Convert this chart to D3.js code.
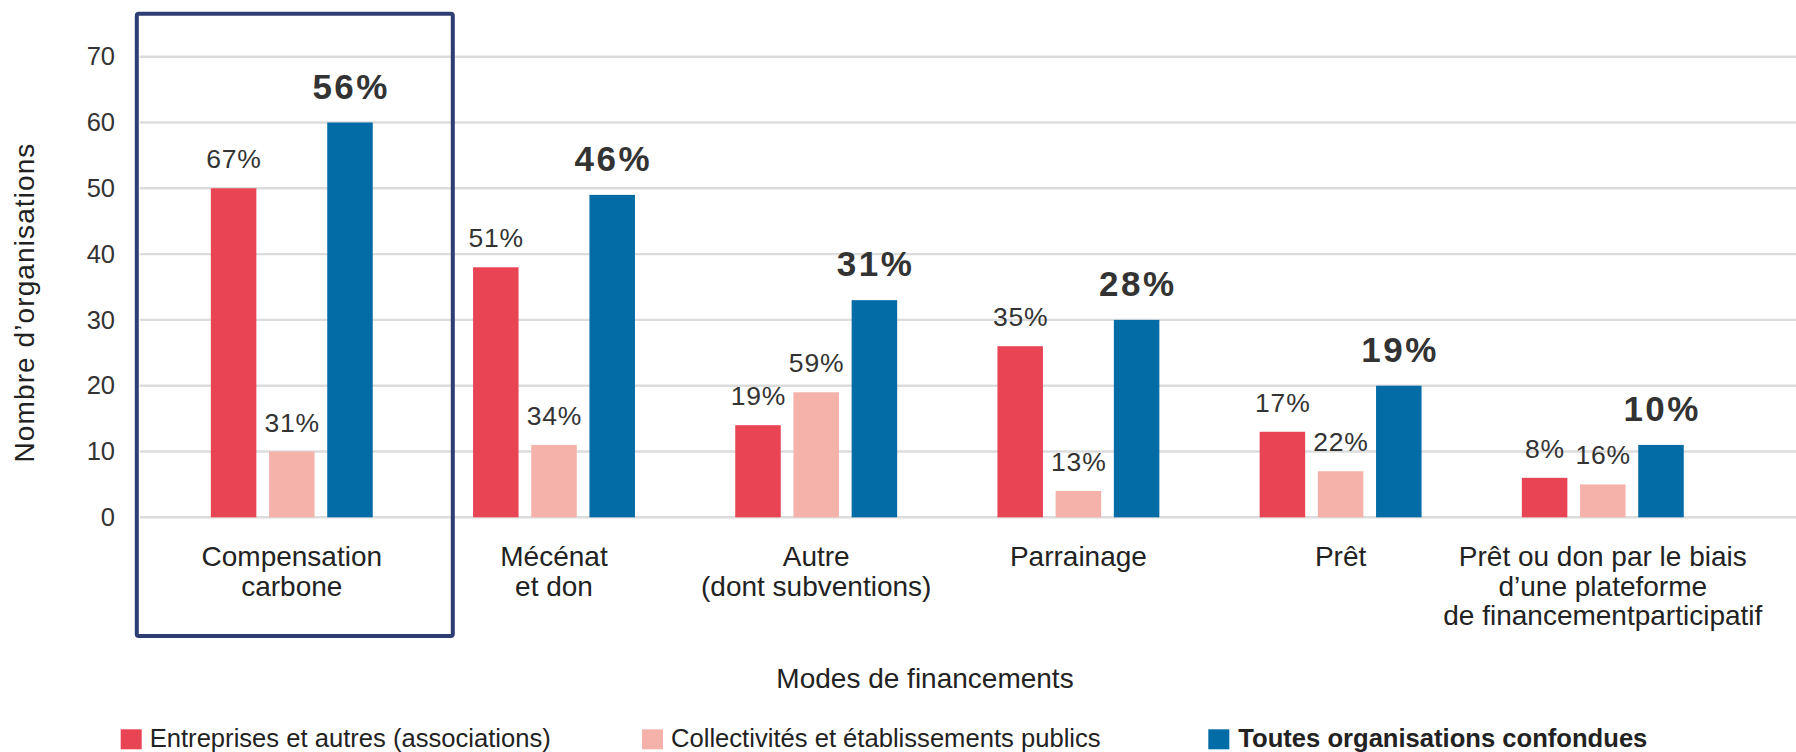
<!DOCTYPE html>
<html>
<head>
<meta charset="utf-8">
<script src="https://cdn.jsdelivr.net/npm/d3@7"></script>
<style>
    body { margin: 0; background: #fff; }
    text { font-family: "Liberation Sans", Arial, Helvetica, sans-serif; }
</style>
</head>
<body>
<svg id="chart"></svg>
<script>
// données
let categories = [
    ["Compensation", "carbone"],
    ["Mécénat", "et don"],
    ["Autre", "(dont subventions)"],
    ["Parrainage"],
    ["Prêt"],
    ["Prêt ou don par le biais", "d\u2019une plateforme", "de financementparticipatif"]
];
let series = ["Entreprises et autres (associations)", "Collectivités et établissements publics", "Toutes organisations confondues"];
let entreprises = [50, 38, 14, 26, 13, 6];
let collectivites = [10, 11, 19, 4, 7, 5];
let toutes = [60, 49, 33, 30, 20, 11];
let pctEntreprises = ["67%", "51%", "19%", "35%", "17%", "8%"];
let pctCollectivites = ["31%", "34%", "59%", "13%", "22%", "16%"];
let pctToutes = ["56%", "46%", "31%", "28%", "19%", "10%"];
let yTicks = [0, 10, 20, 30, 40, 50, 60, 70];

let width = 1796,
    height = 752,
    colors = ["#e84453", "#f4b2ab", "#036ca6"];

let svg = d3.select("#chart").attr("width", width).attr("height", height);

let values = [entreprises, collectivites, toutes],
    pcts = [pctEntreprises, pctCollectivites, pctToutes];

let x0 = d3.scaleBand()
    .domain(d3.range(categories.length))
    .range([160.7, 1733.9])
    .paddingInner(0.3825)
    .paddingOuter(0.19125);

let x1 = d3.scaleBand()
    .domain(d3.range(series.length))
    .range([0, x0.bandwidth()])
    .paddingInner(0.218);

let y = d3.scaleLinear().domain([0, 70]).range([517.3, 56.7]);

// grille
svg.append("g")
    .selectAll("line")
    .data(yTicks)
    .enter().append("line")
    .attr("x1", 139.7)
    .attr("x2", width)
    .attr("y1", function (d) { return y(d); })
    .attr("y2", function (d) { return y(d); })
    .attr("stroke", "#dcdcdc")
    .attr("stroke-width", 2.4);

// axe y
let yAxis = svg.append("g")
    .attr("transform", "translate(115,0)")
    .call(d3.axisLeft(y).tickValues(yTicks).tickSize(0).tickPadding(0));
yAxis.select(".domain").remove();
yAxis.selectAll("text")
    .attr("font-size", 25.5)
    .attr("fill", "#333")
    .attr("font-family", "Liberation Sans, Arial, sans-serif");

svg.append("text")
    .attr("transform", "translate(34,302.5) rotate(-90)")
    .attr("text-anchor", "middle")
    .attr("font-size", 28)
    .attr("letter-spacing", 1.1)
    .attr("fill", "#222")
    .text("Nombre d\u2019organisations");

// barres
let groups = svg.append("g")
    .selectAll("g")
    .data(categories)
    .enter().append("g")
    .attr("transform", function (d, i) { return "translate(" + x0(i) + ",0)"; });

groups.selectAll("rect")
    .data(function (d, i) { return values.map(function (v, s) { return { s: s, v: v[i] }; }); })
    .enter().append("rect")
    .attr("x", function (d) { return x1(d.s); })
    .attr("width", x1.bandwidth())
    .attr("y", function (d) { return y(d.v); })
    .attr("height", function (d) { return y(0) - y(d.v); })
    .attr("fill", function (d) { return colors[d.s]; });

// pourcentages au-dessus des barres
groups.selectAll("text.pct")
    .data(function (d, i) { return values.map(function (v, s) { return { s: s, v: v[i], t: pcts[s][i] }; }); })
    .enter().append("text")
    .attr("class", "pct")
    .attr("x", function (d) { return x1(d.s) + x1.bandwidth() / 2 + (d.s == 2 ? 1.2 : 0.4); })
    .attr("y", function (d) { return y(d.v) - (d.s == 2 ? 24 : 20); })
    .attr("text-anchor", "middle")
    .attr("font-size", function (d) { return d.s == 2 ? 35 : 26.5; })
    .attr("font-weight", function (d) { return d.s == 2 ? "bold" : "normal"; })
    .attr("letter-spacing", function (d) { return d.s == 2 ? 2.5 : 0.8; })
    .attr("fill", "#333")
    .text(function (d) { return d.t; });

// libellés des catégories
let catLabels = svg.append("g")
    .selectAll("text")
    .data(categories)
    .enter().append("text")
    .attr("text-anchor", "middle")
    .attr("font-size", 28)
    .attr("fill", "#222")
    .attr("x", function (d, i) { return x0(i) + x0.bandwidth() / 2; })
    .attr("y", 566);

catLabels.selectAll("tspan")
    .data(function (d) { return d; })
    .enter().append("tspan")
    .attr("x", function () { return d3.select(this.parentNode).attr("x"); })
    .attr("dy", function (d, i) { return i == 0 ? 0 : 29.7; })
    .text(function (d) { return d; });

// cadre autour de "Compensation carbone"
let cx = x0(0) + x0.bandwidth() / 2 + 3;
svg.append("rect")
    .attr("x", cx - 158)
    .attr("y", 13.7)
    .attr("width", 316)
    .attr("height", 622.3)
    .attr("rx", 2)
    .attr("fill", "none")
    .attr("stroke", "#2e3e72")
    .attr("stroke-width", 4);

svg.append("text")
    .attr("x", 925)
    .attr("y", 688.3)
    .attr("text-anchor", "middle")
    .attr("font-size", 28)
    .attr("fill", "#222")
    .text("Modes de financements");

// légende
let legendX = [120.7, 642, 1208.3];
let legend = svg.append("g")
    .selectAll("g")
    .data(series)
    .enter().append("g")
    .attr("transform", function (d, i) { return "translate(" + legendX[i] + ",729.3)"; });

legend.append("rect")
    .attr("width", 21)
    .attr("height", 20)
    .attr("fill", function (d, i) { return colors[i]; });

legend.append("text")
    .attr("x", function (d, i) { return i == 2 ? 30 : 29; })
    .attr("y", 17.4)
    .attr("font-size", 25.6)
    .attr("font-weight", function (d, i) { return i == 2 ? "bold" : "normal"; })
    .attr("fill", "#222")
    .text(function (d) { return d; });
</script>
</body>
</html>
